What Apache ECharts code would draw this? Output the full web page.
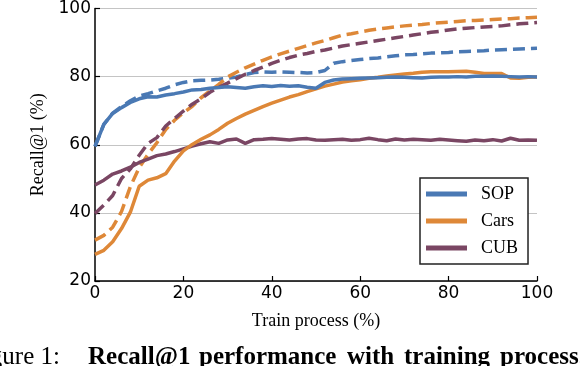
<!DOCTYPE html>
<html>
<head>
<meta charset="utf-8">
<script src="https://cdn.jsdelivr.net/npm/echarts@6/dist/echarts.min.js"></script>
<style>
  html, body { margin: 0; padding: 0; background: #fff; }
  #chart { width: 580px; height: 366px; }
</style>
</head>
<body>
<div id="chart"></div>
<script>
// train process (%)
const progress = [0, 2, 4, 6, 8, 10, 12, 14, 16, 18, 20, 22, 24, 26, 28, 30, 32, 34, 36, 38, 40,
  42, 44, 46, 48, 50, 52, 54, 56, 58, 60, 62, 64, 66, 68, 70, 72, 74, 76, 78, 80,
  82, 84, 86, 88, 90, 92, 94, 96, 98, 100]

// solid lines
const sopSolid = [59.5, 66.0, 69.2, 70.9, 72.4, 73.5, 74.1, 74.0, 74.6, 75.0, 75.5,
  76.1, 76.2, 76.6, 76.8, 77.0, 76.8, 76.6, 77.0, 77.3, 77.1,
  77.4, 77.2, 77.3, 76.9, 76.6, 78.3, 79.0, 79.3, 79.4, 79.5,
  79.6, 79.7, 79.8, 79.9, 79.8, 79.7, 79.6, 79.8, 79.9, 79.9,
  80.0, 79.9, 80.1, 80.1, 80.2, 80.1, 80.0, 79.9, 80.0, 79.9]
const carsSolid = [27.8, 29.0, 31.5, 35.4, 40.2, 47.8, 49.6, 50.3, 51.5, 55.2, 58.2,
  60.1, 61.6, 62.9, 64.5, 66.3, 67.7, 69.0, 70.1, 71.2, 72.2,
  73.1, 74.0, 74.7, 75.6, 76.4, 77.2, 77.8, 78.4, 78.8, 79.1,
  79.5, 79.8, 80.2, 80.5, 80.8, 81.0, 81.3, 81.4, 81.4, 81.4,
  81.5, 81.6, 81.3, 80.9, 80.9, 80.9, 79.6, 79.5, 79.8, 79.9]
const cubSolid = [48.2, 49.6, 51.4, 52.3, 53.4, 54.8, 55.8, 56.8, 57.3, 58.0, 58.8,
  59.6, 60.3, 60.9, 60.4, 61.4, 61.7, 60.4, 61.5, 61.6, 61.8,
  61.6, 61.4, 61.7, 61.8, 61.4, 61.3, 61.5, 61.6, 61.3, 61.5,
  61.9, 61.5, 61.2, 61.7, 61.4, 61.6, 61.5, 61.3, 61.6, 61.4,
  61.2, 61.0, 61.4, 61.2, 61.5, 61.1, 61.9, 61.3, 61.4, 61.3]

// dashed lines
const sopDashed = [59.5, 66.0, 69.3, 71.2, 72.9, 74.3, 75.0, 75.8, 76.6, 77.6, 78.3,
  78.8, 78.9, 79.0, 79.2, 79.5, 79.9, 80.6, 81.2, 81.4, 81.3,
  81.4, 81.3, 81.2, 81.1, 81.2, 81.8, 83.9, 84.4, 84.7, 85.0,
  85.3, 85.5, 85.8, 86.1, 86.4, 86.5, 86.7, 86.9, 87.0, 87.1,
  87.3, 87.4, 87.5, 87.6, 87.8, 87.9, 88.0, 88.1, 88.2, 88.3]
const carsDashed = [32.0, 33.4, 35.8, 40.4, 47.7, 53.3, 57.2, 60.6, 64.5, 67.2, 69.4,
  71.3, 73.8, 75.8, 77.7, 79.9, 81.3, 82.6, 83.7, 84.8, 85.8,
  86.7, 87.5, 88.3, 89.1, 89.9, 90.6, 91.4, 92.2, 92.6, 93.1,
  93.6, 94.0, 94.3, 94.6, 94.9, 95.1, 95.3, 95.6, 95.8, 96.0,
  96.2, 96.4, 96.5, 96.6, 96.8, 96.9, 97.0, 97.2, 97.3, 97.4]
const cubDashed = [39.8, 42.3, 45.1, 50.1, 52.9, 56.9, 60.4, 62.1, 65.5, 67.7, 69.9,
  71.9, 73.5, 75.4, 76.9, 78.1, 79.4, 80.7, 81.8, 82.8, 83.9,
  84.8, 85.6, 86.3, 86.8, 87.4, 87.8, 88.4, 89.0, 89.4, 89.8,
  90.2, 90.6, 91.0, 91.4, 91.8, 92.2, 92.6, 93.0, 93.3, 93.7,
  94.0, 94.2, 94.4, 94.6, 94.7, 94.9, 95.2, 95.5, 95.7, 95.9]

// caption words (justified in the paper, so placed one by one)
const captionWords = ['Recall@1', 'performance', 'with', 'training', 'process.']
const captionLeft = [88, 199, 347, 404, 500]

const colors = { SOP: '#4a79b4', Cars: '#de8838', CUB: '#7a4663' }

const chart = echarts.init(document.getElementById('chart'))

function pairs(ys) {
  return progress.map((x, i) => [x, ys[i]])
}

function line(name, ys, color, dashed) {
  return {
    name: name,
    type: 'line',
    data: pairs(ys),
    showSymbol: false,
    silent: true,
    color: color,
    lineStyle: { color: color, width: 3.5, type: dashed ? [12, 6] : 'solid' }
  }
}

const serif = '"Liberation Serif", "Times New Roman", serif'
const sans = '"DejaVu Sans", sans-serif'

const captionTop = 345
const caption = [{
  type: 'text',
  left: -31,
  top: captionTop,
  style: { text: 'Figure 1:', font: '25px ' + serif, fill: '#000' }
}].concat(captionWords.map((w, i) => ({
  type: 'text',
  left: captionLeft[i],
  top: captionTop,
  style: { text: w, font: 'bold 25px ' + serif, fill: '#000' }
})))

const option = {
  animation: false,
  grid: { left: 95, right: 43, top: 6, bottom: 85 },
  legend: {
    data: ['SOP', 'Cars', 'CUB'],
    orient: 'vertical',
    left: 420,
    top: 178,
    padding: [6, 10, 6, 6],
    itemGap: 7,
    itemWidth: 41,
    itemHeight: 5,
    icon: 'rect',
    borderColor: '#222',
    borderWidth: 1.5,
    backgroundColor: '#fff',
    textStyle: { fontFamily: serif, fontSize: 18, color: '#000', lineHeight: 20, padding: [0, 0, 0, 9] }
  },
  xAxis: {
    type: 'value',
    min: 0,
    max: 100,
    interval: 20,
    name: 'Train process (%)',
    nameLocation: 'middle',
    nameGap: 31,
    nameTextStyle: { fontFamily: serif, fontSize: 18, color: '#000' },
    axisLine: { lineStyle: { color: '#000', width: 1.5 } },
    axisTick: { inside: true, length: 5, lineStyle: { color: '#000', width: 1.2 } },
    axisLabel: { fontFamily: sans, fontSize: 17, color: '#000', margin: 4 },
    splitLine: { show: false }
  },
  yAxis: {
    type: 'value',
    min: 20,
    max: 100,
    interval: 20,
    name: 'Recall@1 (%)',
    nameLocation: 'middle',
    nameGap: 36,
    nameTextStyle: { fontFamily: serif, fontSize: 18, color: '#000' },
    axisLine: { show: true, lineStyle: { color: '#000', width: 1.5 } },
    axisTick: { show: true, inside: true, length: 5, lineStyle: { color: '#000', width: 1.2 } },
    axisLabel: { fontFamily: sans, fontSize: 17, color: '#000', margin: 4 },
    splitLine: { lineStyle: { color: '#c4c4c4', width: 1 } }
  },
  graphic: caption,
  series: [
    line('SOP dashed', sopDashed, colors.SOP, true),
    line('Cars dashed', carsDashed, colors.Cars, true),
    line('CUB dashed', cubDashed, colors.CUB, true),
    line('CUB', cubSolid, colors.CUB, false),
    line('Cars', carsSolid, colors.Cars, false),
    line('SOP', sopSolid, colors.SOP, false)
  ]
}

chart.setOption(option)
</script>
</body>
</html>
